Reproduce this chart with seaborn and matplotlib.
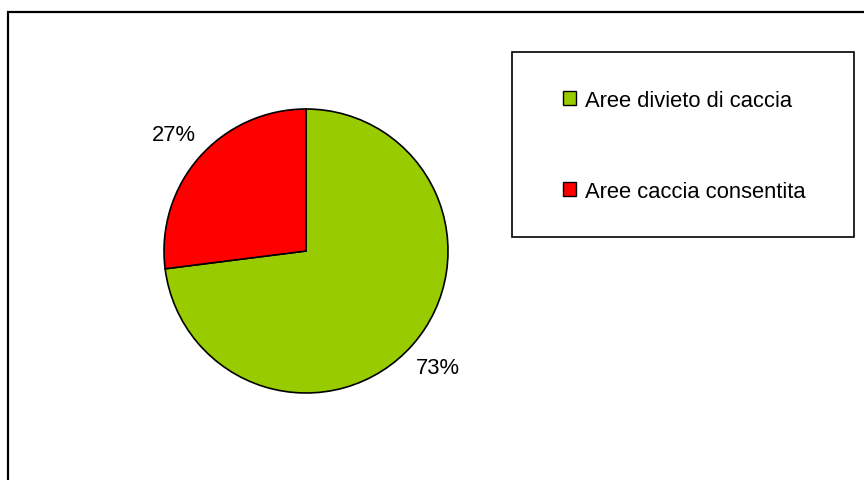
import matplotlib
matplotlib.use('Agg')
import matplotlib.pyplot as plt
from matplotlib.patches import Rectangle, Patch
import seaborn as sns

# dati
categorie = ['Aree divieto di caccia', 'Aree caccia consentita']
percentuali = [73, 27]
colori = ['#99CC00', '#FF0000']

sns.set_theme(style='white')
plt.rcParams['font.family'] = ['Liberation Sans', 'DejaVu Sans']
plt.rcParams['text.color'] = 'black'

W, H = 864, 481
fig = plt.figure(figsize=(W / 100, H / 100), dpi=100)

# cornice esterna (continua oltre il bordo inferiore e destro)
fig.patches.append(Rectangle((8 / W, -0.1), 1.2, 1 - 13 / H + 0.1, transform=fig.transFigure,
                             fill=False, edgecolor='black', linewidth=1.6))

# torta
cx, cy, r = 306, 252, 142
ax = fig.add_axes([(cx - r) / W, (H - cy - r) / H, 2 * r / W, 2 * r / H])
ax.pie(percentuali, colors=colori, startangle=90, counterclock=False,
       autopct='%1.0f%%', pctdistance=1.24,
       wedgeprops=dict(edgecolor='black', linewidth=1.2),
       textprops=dict(fontsize=15.8, color='black'))
ax.set_xlim(-1, 1)
ax.set_ylim(-1, 1)
ax.set_aspect('equal')
ax.axis('off')

# riquadro legenda
lx0, ly0, lx1, ly1 = 512, 53, 854, 238
fig.patches.append(Rectangle((lx0 / W, 1 - ly1 / H), (lx1 - lx0) / W, (ly1 - ly0) / H,
                             transform=fig.transFigure, fill=False, edgecolor='black', linewidth=1.2))

handles = [Patch(facecolor=c, edgecolor='black', linewidth=1.0) for c in colori]
fig.legend(handles, categorie, loc='center left',
           bbox_to_anchor=(563 / W, 1 - 147 / H), frameon=False,
           fontsize=15.8, labelcolor='black', borderpad=0, borderaxespad=0,
           handlelength=0.6, handleheight=0.6, handletextpad=0.4,
           labelspacing=3.2)

fig.savefig('out.png', dpi=100, facecolor='white')
